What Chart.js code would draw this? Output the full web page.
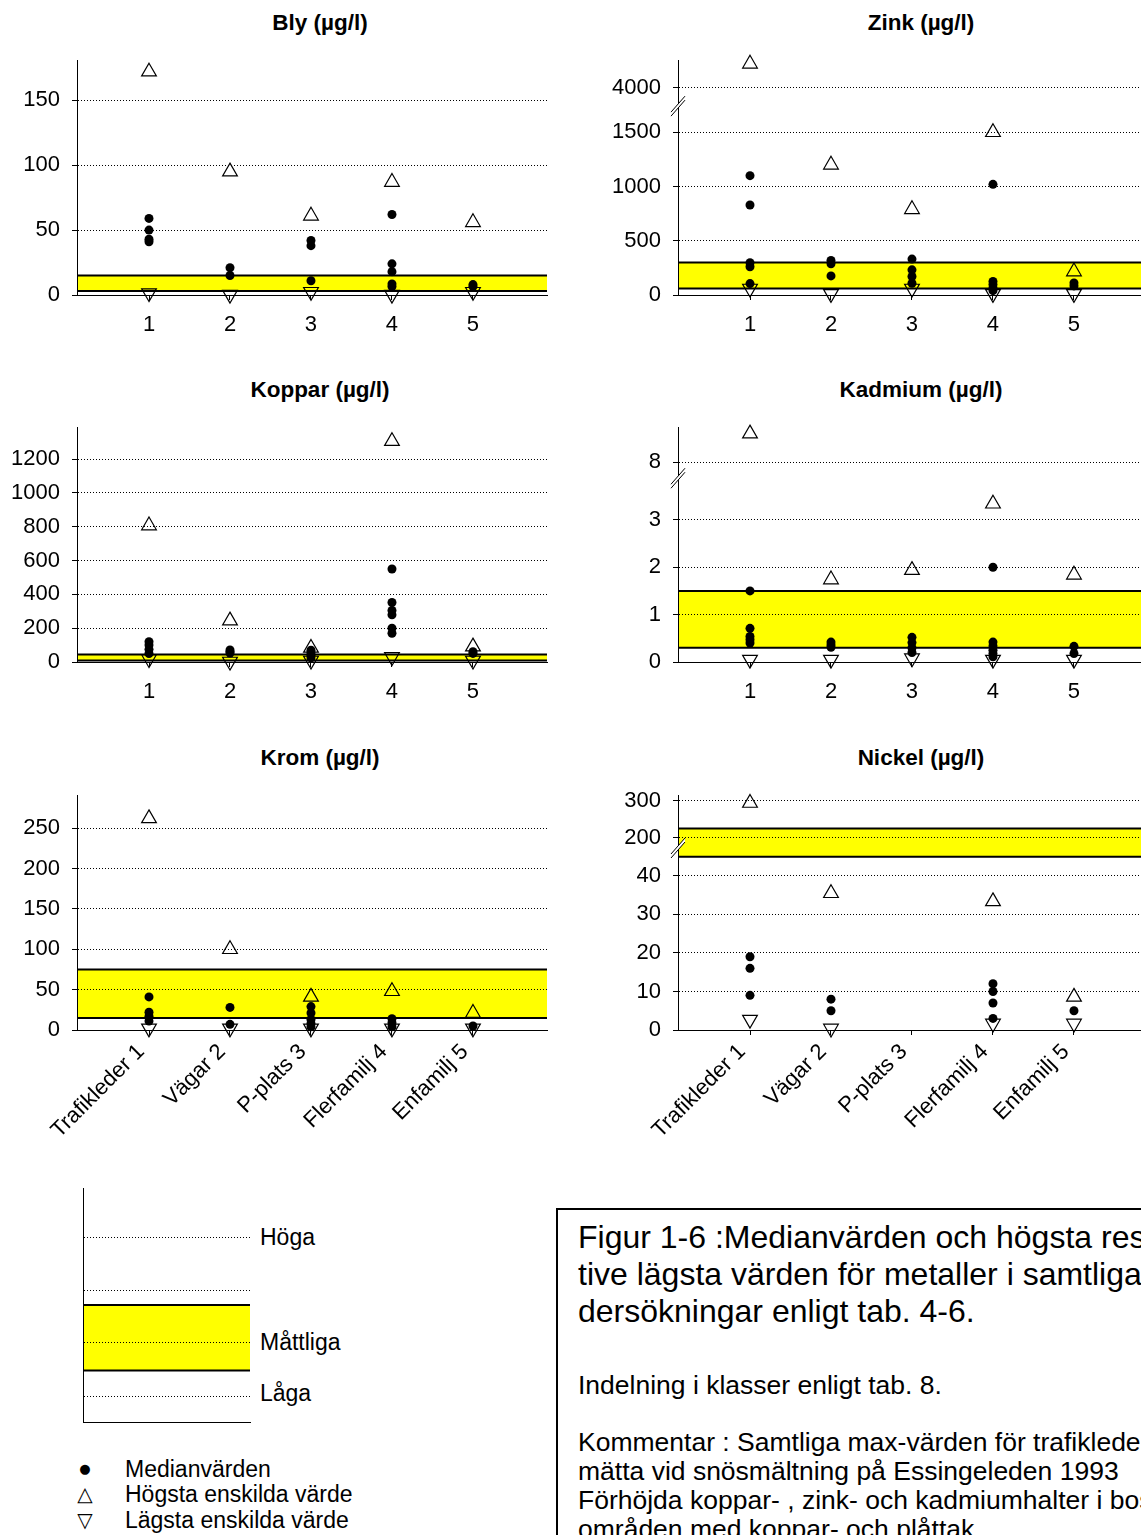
<!DOCTYPE html>
<html lang="sv">
<head>
<meta charset="utf-8">
<title>Metaller i snö</title>
<script src="https://cdn.jsdelivr.net/npm/chart.js@4.4.1/dist/chart.umd.min.js"></script>
<style>
html, body { margin: 0; padding: 0; background: #fff; }
body { width: 1141px; height: 1535px; overflow: hidden; position: relative;
       font-family: 'Liberation Sans', Arial, sans-serif; color: #000; }
canvas { position: absolute; }
.rubrik { position: absolute; width: 400px; text-align: center; font-weight: bold;
          font-size: 22.5px; line-height: 26px; }
.txt { position: absolute; white-space: nowrap; }
.sym { position: absolute; width: 20px; text-align: center; font-family: 'DejaVu Sans', sans-serif; }
#ruta { position: absolute; left: 556px; top: 1208px; width: 700px; height: 400px; border: 2px solid #000; }
</style>
</head>
<body>

<div class="rubrik" style="left:120px;top:10px">Bly (µg/l)</div>
<div class="rubrik" style="left:721px;top:10px">Zink (µg/l)</div>
<div class="rubrik" style="left:120px;top:377px">Koppar (µg/l)</div>
<div class="rubrik" style="left:721px;top:377px">Kadmium (µg/l)</div>
<div class="rubrik" style="left:120px;top:745px">Krom (µg/l)</div>
<div class="rubrik" style="left:721px;top:745px">Nickel (µg/l)</div>

<canvas id="bly" width="560" height="340" style="left:0;top:0"></canvas>
<canvas id="zink" width="560" height="340" style="left:601px;top:0"></canvas>
<canvas id="koppar" width="560" height="340" style="left:0;top:367px"></canvas>
<canvas id="kadmium" width="560" height="340" style="left:601px;top:367px"></canvas>
<canvas id="krom" width="560" height="410" style="left:0;top:735px"></canvas>
<canvas id="nickel" width="560" height="410" style="left:601px;top:735px"></canvas>

<!-- klassindelning -->
<canvas id="klass" width="187" height="254" style="left:73px;top:1178px"></canvas>
<div class="txt" style="left:260px;top:1224px;font-size:23px;line-height:26px">Höga</div>
<div class="txt" style="left:260px;top:1329px;font-size:23px;line-height:26px">Måttliga</div>
<div class="txt" style="left:260px;top:1380px;font-size:23px;line-height:26px">Låga</div>

<!-- teckenförklaring -->
<div class="sym" style="left:75px;top:1458px;font-size:13px;line-height:22px">●</div>
<div class="sym" style="left:75px;top:1482px;font-size:20px;line-height:24px">△</div>
<div class="sym" style="left:75px;top:1508px;font-size:20px;line-height:24px">▽</div>
<div class="txt" style="left:125px;top:1456px;font-size:23px;line-height:26px">Medianvärden</div>
<div class="txt" style="left:125px;top:1481px;font-size:23px;line-height:26px">Högsta enskilda värde</div>
<div class="txt" style="left:125px;top:1507px;font-size:23px;line-height:26px">Lägsta enskilda värde</div>

<div id="ruta"></div>
<div class="txt" style="left:578px;top:1219px;font-size:32px;line-height:37px">Figur 1-6 :Medianvärden och högsta respek-<br>tive lägsta värden för metaller i samtliga un-<br>dersökningar enligt tab. 4-6.</div>
<div class="txt" style="left:578px;top:1370px;font-size:26.5px;line-height:30px">Indelning i klasser enligt tab. 8.</div>
<div class="txt" style="left:578px;top:1428px;font-size:26.5px;line-height:29px">Kommentar : Samtliga max-värden för trafikleder är upp-<br>mätta vid snösmältning på Essingeleden 1993<br>Förhöjda koppar- , zink- och kadmiumhalter i bostads-<br>områden med koppar- och plåttak.</div>

<script>
// Kategorier (provtagningsplatser)
const kategorier = ['Trafikleder 1', 'Vägar 2', 'P-plats 3', 'Flerfamilj 4', 'Enfamilj 5'];
const nummer = ['1', '2', '3', '4', '5'];
const xPos = [1, 2, 3, 4, 5];

// Bly (µg/l)
const blyMedian = [[59, 50, 43, 41], [21, 15], [42, 38, 11], [62, 24, 18, 8.5, 6.5], [8, 6.5]];
const blyMax = [172, 95, 61, 87, 56];
const blyMin = [1.5, 0.3, 2.5, 0.3, 2.5];
const blyKlass = [3, 15];
const blyTicks = [0, 50, 100, 150];

// Zink (µg/l)
const zinkMedian = [[1100, 830, 297, 260, 105], [319, 288, 176], [331, 232, 170, 108], [1020, 124, 96, 65, 40], [111, 84]];
const zinkMax = [4220, 1200, 790, 1500, 216];
const zinkMin = [60, 10, 60, 10, 10];
const zinkKlass = [60, 300];
const zinkTicks = [0, 500, 1000, 1500, 4000];

// Koppar (µg/l)
const kopparMedian = [[120, 100, 75, 50], [71, 60, 53], [70, 55, 40, 25], [550, 352, 305, 279, 200, 170], [61, 51]];
const kopparMax = [807, 245, 83, 1306, 91];
const kopparMin = [18, 3, 9, 30, 9];
const kopparKlass = [9, 45];
const kopparTicks = [0, 200, 400, 600, 800, 1000, 1200];

// Kadmium (µg/l)
const kadmiumMedian = [[1.5, 0.71, 0.54, 0.47, 0.4], [0.42, 0.36, 0.31], [0.52, 0.41, 0.3, 0.2], [2.0, 0.42, 0.34, 0.25, 0.18, 0.11], [0.33, 0.18]];
const kadmiumMax = [8.6, 1.74, 1.94, 3.34, 1.84];
const kadmiumMin = [0.05, 0.05, 0.08, 0.05, 0.05];
const kadmiumKlass = [0.3, 1.5];
const kadmiumTicks = [0, 1, 2, 3, 8];

// Krom (µg/l)
const kromMedian = [[41, 22, 17, 11], [28, 7], [29, 21, 13, 8, 4], [14, 9, 4], [5]];
const kromMax = [262, 100, 41, 48, 21];
const kromMin = [2, 2, 2, 2, 2];
const kromKlass = [15, 75];
const kromTicks = [0, 50, 100, 150, 200, 250];

// Nickel (µg/l) - inga värden för P-plats
const nickelMedian = [[19, 16, 9], [8, 5], [], [12, 10, 7, 3], [5]];
const nickelMax = [294, 35.5, null, 33.4, 8.6];
const nickelMin = [2.7, 0.4, null, 1.7, 1.7];
const nickelKlass = [45, 225];
const nickelTicks = [0, 10, 20, 30, 40, 200, 300];

// Klassindelning (schematisk)
const klassLinjer = [1.1, 3.4, 5.6, 7.9];
const klassBand = [2.2, 5.0];

Chart.defaults.font.family = "'Liberation Sans', Arial, sans-serif";
Chart.defaults.color = '#000';

// linjär skala med brott i y-axeln
class BrutenSkala extends Chart.LinearScale {
  omvandla(v) {
    const b = this.options.brk;
    if (!b || v === null || v === undefined || v <= b.from) return v;
    return b.base + (v - b.ref) * b.k;
  }
  getPixelForValue(v, i) {
    return super.getPixelForValue(this.omvandla(v), i);
  }
}
BrutenSkala.id = 'bruten';
BrutenSkala.defaults = Chart.LinearScale.defaults;
Chart.register(BrutenSkala);

// gula bandet (måttliga halter), ritas under stödlinjerna
const bandPlugin = {
  id: 'klassband',
  beforeDraw(chart, args, opts) {
    if (!opts.range) return;
    const ctx = chart.ctx, a = chart.chartArea, y = chart.scales.y;
    const topp = y.getPixelForValue(opts.range[1]);
    const botten = y.getPixelForValue(opts.range[0]);
    ctx.save();
    ctx.fillStyle = '#ffff00';
    ctx.fillRect(a.left, topp, a.right - a.left, botten - topp);
    ctx.strokeStyle = '#000';
    ctx.lineWidth = 2;
    [topp, botten].forEach(p => {
      ctx.beginPath();
      ctx.moveTo(a.left, p);
      ctx.lineTo(a.right, p);
      ctx.stroke();
    });
    ctx.restore();
  }
};

// brottmarkering på y-axeln
const brottPlugin = {
  id: 'axelbrott',
  afterDraw(chart, args, opts) {
    if (opts.at === null || opts.at === undefined) return;
    const ctx = chart.ctx;
    const x = chart.chartArea.left;
    const y = chart.scales.y.getPixelForValue(opts.at);
    ctx.save();
    ctx.fillStyle = '#fff';
    ctx.beginPath();
    ctx.moveTo(x - 7, y + 11);
    ctx.lineTo(x + 7, y - 5);
    ctx.lineTo(x + 7, y - 9);
    ctx.lineTo(x - 7, y + 7);
    ctx.closePath();
    ctx.fill();
    ctx.strokeStyle = '#000';
    ctx.lineWidth = 1;
    ctx.beginPath();
    ctx.moveTo(x - 7, y + 11); ctx.lineTo(x + 7, y - 5);
    ctx.moveTo(x - 7, y + 7); ctx.lineTo(x + 7, y - 9);
    ctx.stroke();
    ctx.restore();
  }
};

function punkter(lista) {
  const ut = [];
  lista.forEach((v, i) => {
    [].concat(v).forEach(y => {
      if (y !== null) ut.push({ x: xPos[i], y: y });
    });
  });
  return ut;
}

function ritaPanel(id, p) {
  const etiketter = p.namn ? kategorier : nummer;
  const rot = p.namn ? 45 : 0;
  return new Chart(document.getElementById(id), {
    type: 'scatter',
    data: {
      datasets: [
        { label: 'Medianvärden', data: punkter(p.median), pointStyle: 'circle', pointRadius: 4.5,
          pointBackgroundColor: '#000', pointBorderWidth: 0, order: 0, clip: false },
        { label: 'Högsta enskilda värde', data: punkter(p.max), pointStyle: 'triangle', pointRadius: 8.5,
          pointBackgroundColor: 'rgba(0,0,0,0)', pointBorderColor: '#000', pointBorderWidth: 1.2, order: 1, clip: false },
        { label: 'Lägsta enskilda värde', data: punkter(p.min), pointStyle: 'triangle', pointRotation: 180, pointRadius: 8.5,
          pointBackgroundColor: 'rgba(0,0,0,0)', pointBorderColor: '#000', pointBorderWidth: 1.2, order: 2, clip: false }
      ]
    },
    options: {
      responsive: false,
      animation: false,
      devicePixelRatio: 1,
      events: [],
      layout: { padding: { top: 60, right: 13, left: 0, bottom: 0 } },
      plugins: {
        legend: { display: false },
        tooltip: { enabled: false },
        klassband: { range: p.klass },
        axelbrott: { at: p.brott ? p.brott.from : null }
      },
      scales: {
        x: {
          type: 'linear', min: 0.111, max: 5.914,
          afterBuildTicks: s => { s.ticks = xPos.map(v => ({ value: v })); },
          afterFit: s => { s.height = p.namn ? 115 : 45; },
          ticks: { callback: (v, i) => etiketter[i], font: { size: 22 }, padding: p.namn ? 4 : 12,
                   labelOffset: p.namn ? -8 : 0,
                   autoSkip: false, minRotation: rot, maxRotation: rot },
          grid: { drawOnChartArea: false, tickLength: 5, color: '#000' },
          border: { color: '#000', width: 1 }
        },
        y: {
          type: p.brott ? 'bruten' : 'linear',
          min: 0, max: p.ymax, bounds: 'data',
          brk: p.brott,
          afterBuildTicks: s => { s.ticks = p.ticks.map(v => ({ value: v })); },
          afterFit: s => { s.width = 77; },
          ticks: { callback: v => String(v), font: { size: 22 }, padding: 12 },
          grid: { color: '#000', lineWidth: 1, tickLength: 5, tickColor: '#000', tickBorderDash: [] },
          border: { color: '#000', width: 1, dash: [1, 2] }
        }
      }
    },
    plugins: p.brott ? [bandPlugin, brottPlugin] : [bandPlugin]
  });
}

ritaPanel('bly', { median: blyMedian, max: blyMax, min: blyMin, klass: blyKlass, ticks: blyTicks, ymax: 181 });
ritaPanel('zink', { median: zinkMedian, max: zinkMax, min: zinkMin, klass: zinkKlass, ticks: zinkTicks, ymax: 2166,
  brott: { from: 1750, base: 1911, ref: 4000, k: 1 } });
ritaPanel('koppar', { median: kopparMedian, max: kopparMax, min: kopparMin, klass: kopparKlass, ticks: kopparTicks, ymax: 1390 });
ritaPanel('kadmium', { median: kadmiumMedian, max: kadmiumMax, min: kadmiumMin, klass: kadmiumKlass, ticks: kadmiumTicks, ymax: 4.96,
  brott: { from: 3.9, base: 4.22, ref: 8, k: 1 } });
ritaPanel('krom', { median: kromMedian, max: kromMax, min: kromMin, klass: kromKlass, ticks: kromTicks, ymax: 291, namn: true });
ritaPanel('nickel', { median: nickelMedian, max: nickelMax, min: nickelMin, klass: nickelKlass, ticks: nickelTicks, ymax: 61, namn: true,
  brott: { from: 47.5, base: 49.9, ref: 200, k: 0.096 } });

// schematisk bild av klasserna
new Chart(document.getElementById('klass'), {
  type: 'scatter',
  data: { datasets: [] },
  options: {
    responsive: false,
    animation: false,
    devicePixelRatio: 1,
    events: [],
    layout: { padding: { top: 10, right: 10, left: 10, bottom: 10 } },
    plugins: { legend: { display: false }, tooltip: { enabled: false }, klassband: { range: klassBand } },
    scales: {
      x: { type: 'linear', min: 0, max: 1, ticks: { display: false }, grid: { display: false },
           border: { color: '#000', width: 1 }, afterFit: s => { s.height = 0; } },
      y: { type: 'linear', min: 0, max: 10,
           afterBuildTicks: s => { s.ticks = klassLinjer.map(v => ({ value: v })); },
           ticks: { display: false }, grid: { color: '#000', drawTicks: false },
           border: { color: '#000', width: 1, dash: [1, 2] }, afterFit: s => { s.width = 0; } }
    }
  },
  plugins: [bandPlugin]
});
</script>
</body>
</html>
